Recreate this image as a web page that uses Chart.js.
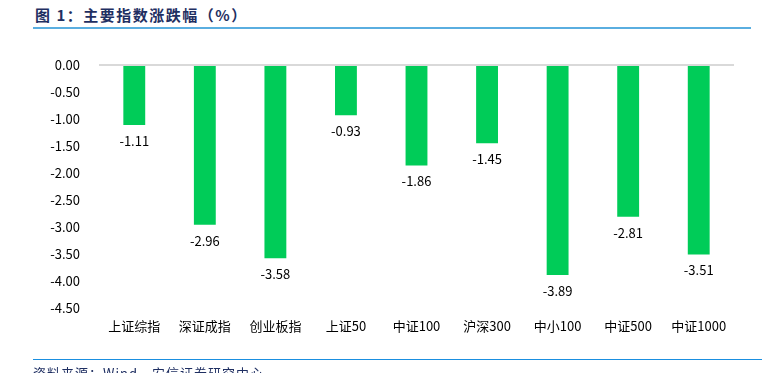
<!DOCTYPE html>
<html>
<head>
<meta charset="utf-8">
<script src="https://cdn.jsdelivr.net/npm/chart.js@4"></script>
<style>
  html, body { margin: 0; padding: 0; background: #fff; }
  body { width: 762px; height: 373px; position: relative; overflow: hidden; }
  #title {
    position: absolute; left: 35px; top: 4px;
    font: bold 15px "Noto Sans CJK SC", sans-serif; letter-spacing: 1.5px;
    color: #1f2f62;
  }
  #titleLine { position: absolute; left: 33px; top: 27px; width: 718px; height: 2px; background: #5aaee0; }
  #footLine { position: absolute; left: 33px; top: 359px; width: 729px; height: 1px; background: #1a8fe0; }
  #foot {
    position: absolute; left: 33px; top: 363px;
    font: 13px "Noto Sans CJK SC", sans-serif; color: #1f2f62; letter-spacing: 1px;
  }
  #wrap { position: absolute; left: 0; top: 0; width: 762px; height: 373px; }
</style>
</head>
<body>
<div id="title">图 1：主要指数涨跌幅（%）</div>
<div id="titleLine"></div>
<div id="wrap"><canvas id="myChart"></canvas></div>
<div id="footLine"></div>
<div id="foot">资料来源：Wind，安信证券研究中心</div>
<script>
const categories = ["上证综指", "深证成指", "创业板指", "上证50", "中证100", "沪深300", "中小100", "中证500", "中证1000"];
const changes = [-1.11, -2.96, -3.58, -0.93, -1.86, -1.45, -3.89, -2.81, -3.51];
const yTicks = [0, -0.5, -1, -1.5, -2, -2.5, -3, -3.5, -4, -4.5];

const font = "'Noto Sans CJK SC', 'Liberation Sans', sans-serif";

// value labels under each bar
const valueLabels = {
  id: "valueLabels",
  afterDatasetsDraw(chart) {
    const ctx = chart.ctx;
    const meta = chart.getDatasetMeta(0);
    ctx.save();
    ctx.fillStyle = "#000";
    ctx.font = "13px " + font;
    ctx.textAlign = "center";
    ctx.textBaseline = "middle";
    meta.data.forEach((bar, i) => {
      ctx.fillText(changes[i].toFixed(2), bar.x, bar.y + 16);
    });
    ctx.restore();
  },
};

const ctx1 = document.getElementById("myChart").getContext("2d");
const myChart = new Chart(ctx1, {
  type: "bar",
  data: {
    labels: categories,
    datasets: [
      {
        data: changes,
        backgroundColor: "#00cc58",
        barPercentage: 0.62,
        categoryPercentage: 0.5,
      },
    ],
  },
  options: {
    responsive: true,
    maintainAspectRatio: false,
    animation: false,
    layout: { padding: { top: 65, right: 28, left: 0, bottom: 0 } },
    scales: {
      x: {
        position: "top",
        display: false,
      },
      xb: {
        type: "category",
        labels: categories,
        position: "bottom",
        offset: true,
        grid: { display: false, drawTicks: false },
        border: { display: false },
        ticks: { color: "#000", font: { family: font, size: 13 }, padding: 10, maxRotation: 0, autoSkip: false },
        afterFit(scale) { scale.height = 65; },
      },
      y: {
        min: -4.5,
        max: 0,
        afterBuildTicks(scale) { scale.ticks = yTicks.map(v => ({ value: v })); },
        grid: {
          drawTicks: false,
          color: (c) => (c.tick && c.tick.value === 0 ? "#d9d9d9" : "rgba(0,0,0,0)"),
          lineWidth: 2,
        },
        border: { display: false },
        ticks: {
          color: "#000",
          font: { family: font, size: 13 },
          padding: 19,
          callback: (v) => Number(v).toFixed(2),
        },
        afterFit(scale) { scale.width = 99; },
      },
    },
    plugins: {
      legend: { display: false },
      tooltip: { enabled: false },
    },
  },
  plugins: [valueLabels],
});
</script>
</body>
</html>
